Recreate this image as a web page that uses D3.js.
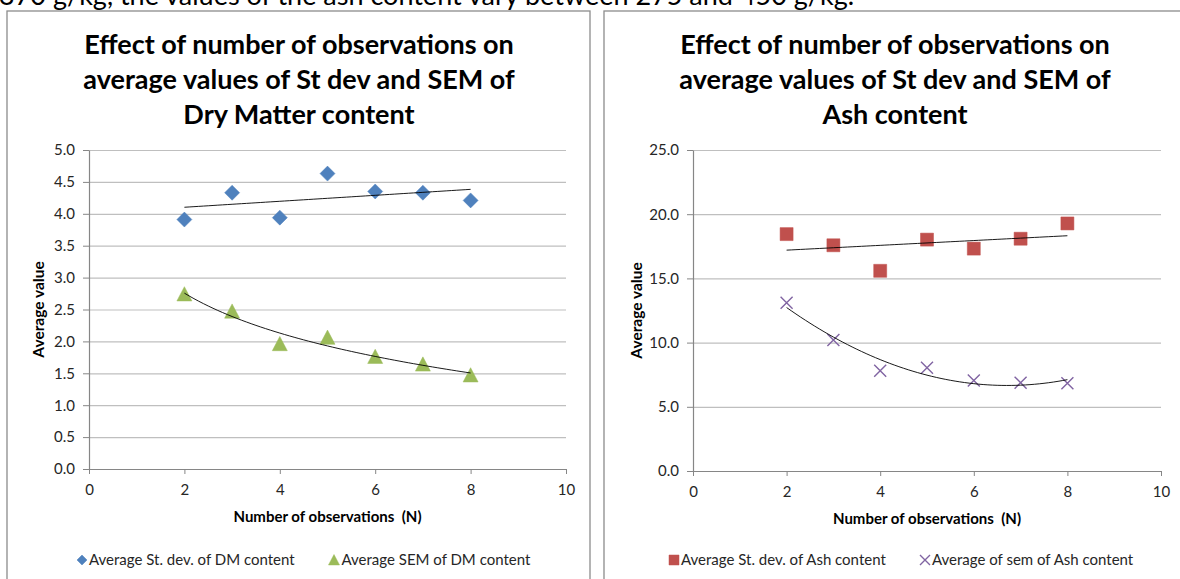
<!DOCTYPE html>
<html>
<head>
<meta charset="utf-8">
<script src="https://cdn.jsdelivr.net/npm/d3@7"></script>
<style>
  body { margin: 0; background: #fff; }
  svg { display: block; }
  text { font-family: Lato, "Open Sans", sans-serif; }
</style>
</head>
<body>
<svg id="charts"></svg>
<script>
// data
let nObs = [2, 3, 4, 5, 6, 7, 8];
let dmStDev = [3.91, 4.33, 3.94, 4.63, 4.35, 4.33, 4.21];
let dmSem = [2.74, 2.47, 1.96, 2.06, 1.76, 1.64, 1.47];
let ashStDev = [18.45, 17.58, 15.59, 18.02, 17.32, 18.09, 19.28];
let ashSem = [13.1, 10.2, 7.81, 8.04, 7.04, 6.88, 6.83];

// tick labels
let xTicks = [0, 2, 4, 6, 8, 10];
let dmTicks = [0, 0.5, 1, 1.5, 2, 2.5, 3, 3.5, 4, 4.5, 5];
let ashTicks = [0, 5, 10, 15, 20, 25];

let colors = {
  blue: '#4F81BD',
  green: '#9BBB59',
  red: '#C0504D',
  purple: '#8064A2',
  grid: '#BFBFBF',
  axis: '#868686',
  frame: '#8C8C8C'
};

let svg = d3.select('#charts')
  .attr('width', 1180)
  .attr('height', 579);

function translate(x, y) {
  return 'translate(' + x + ',' + y + ')';
}

// least squares fits used for the trend lines
function linearFit(xs, ys) {
  let mx = d3.mean(xs), my = d3.mean(ys);
  let sxy = d3.sum(xs, (x, i) => (x - mx) * (ys[i] - my));
  let sxx = d3.sum(xs, x => (x - mx) * (x - mx));
  let b = sxy / sxx;
  return x => my + b * (x - mx);
}

function logFit(xs, ys) {
  let f = linearFit(xs.map(Math.log), ys);
  return x => f(Math.log(x));
}

function polyFit2(xs, ys) {
  // normal equations for y = a + b x + c x^2
  let s = k => d3.sum(xs, x => Math.pow(x, k));
  let t = k => d3.sum(xs, (x, i) => Math.pow(x, k) * ys[i]);
  let m = [
    [s(0), s(1), s(2), t(0)],
    [s(1), s(2), s(3), t(1)],
    [s(2), s(3), s(4), t(2)]
  ];
  for (let i = 0; i < 3; i++) {
    for (let j = i + 1; j < 3; j++) {
      let r = m[j][i] / m[i][i];
      for (let k = i; k < 4; k++) m[j][k] -= r * m[i][k];
    }
  }
  let c = m[2][3] / m[2][2];
  let b = (m[1][3] - m[1][2] * c) / m[1][1];
  let a = (m[0][3] - m[0][1] * b - m[0][2] * c) / m[0][0];
  return x => a + b * x + c * x * x;
}

// marker shapes
function markerPath(type, r) {
  switch (type) {
    case 'diamond':
      return 'M0,' + (-r) + 'L' + r + ',0L0,' + r + 'L' + (-r) + ',0Z';
    case 'triangle':
      return 'M0,' + (-r) + 'L' + r + ',' + r * 0.9 + 'L' + (-r) + ',' + r * 0.9 + 'Z';
    case 'square':
      return 'M' + (-r) + ',' + (-r) + 'h' + 2 * r + 'v' + 2 * r + 'h' + (-2 * r) + 'Z';
    case 'cross':
      return 'M' + (-r) + ',' + (-r) + 'L' + r + ',' + r + 'M' + r + ',' + (-r) + 'L' + (-r) + ',' + r;
  }
}

function drawMarkers(g, type, color, r, points) {
  g.selectAll(null)
    .data(points)
    .enter().append('path')
    .attr('transform', d => translate(d[0], d[1]))
    .attr('d', markerPath(type, r))
    .attr('fill', type == 'cross' ? 'none' : color)
    .attr('stroke', color)
    .attr('stroke-width', type == 'cross' ? 1.4 : 0.5);
}

function drawChart(cfg) {
  let root = svg.append('g');

  // outer frame
  root.append('rect')
    .attr('x', cfg.frame[0])
    .attr('y', cfg.frame[1])
    .attr('width', cfg.frame[2])
    .attr('height', cfg.frame[3])
    .attr('fill', '#fff')
    .attr('stroke', colors.frame)
    .attr('stroke-width', 1.3);

  // title
  let title = root.append('text')
    .attr('text-anchor', 'middle')
    .attr('font-weight', 'bold')
    .attr('font-size', 27)
    .attr('fill', '#000');
  cfg.title.forEach((line, i) => {
    title.append('tspan')
      .attr('x', cfg.titleX)
      .attr('y', 54 + i * 35)
      .text(line);
  });

  let x = d3.scaleLinear().domain([0, 10]).range([cfg.x0, cfg.x1]);
  let y = d3.scaleLinear().domain(d3.extent(cfg.yTicks)).range([cfg.y0, cfg.y1]);

  // gridlines
  let grid = d3.axisLeft(y)
    .tickValues(cfg.yTicks.slice(1))
    .tickFormat('')
    .tickSize(-(cfg.x1 - cfg.x0));
  root.append('g')
    .attr('transform', translate(cfg.x0, 0))
    .call(grid)
    .call(g => g.select('.domain').remove())
    .call(g => g.selectAll('line').attr('stroke', colors.grid).attr('stroke-width', 1.2));

  // axes
  let yAxis = d3.axisLeft(y)
    .tickValues(cfg.yTicks)
    .tickFormat(d3.format('.1f'))
    .tickSize(6)
    .tickSizeOuter(0)
    .tickPadding(8);
  root.append('g')
    .attr('transform', translate(cfg.x0, 0))
    .call(yAxis)
    .call(g => g.select('.domain').attr('stroke', colors.axis).attr('stroke-width', 1.2))
    .call(g => g.selectAll('line').attr('stroke', colors.axis))
    .call(g => g.selectAll('text').attr('font-size', 15).attr('fill', '#262626')
      .attr('font-family', 'Lato, sans-serif'));

  let xAxis = d3.axisBottom(x)
    .tickValues(xTicks)
    .tickFormat(d3.format('d'))
    .tickSize(5)
    .tickSizeOuter(0)
    .tickPadding(10);
  root.append('g')
    .attr('transform', translate(0, cfg.y0))
    .call(xAxis)
    .call(g => g.select('.domain').attr('stroke', colors.axis).attr('stroke-width', 1.2))
    .call(g => g.selectAll('line').attr('stroke', colors.axis))
    .call(g => g.selectAll('text').attr('font-size', 15).attr('fill', '#262626')
      .attr('font-family', 'Lato, sans-serif'));

  // axis titles
  root.append('text')
    .attr('transform', translate(cfg.x0 - cfg.yTitleGap, (cfg.y0 + cfg.y1) / 2) + ' rotate(-90)')
    .attr('text-anchor', 'middle')
    .attr('font-weight', 'bold')
    .attr('font-size', 15.5)
    .text('Average value');

  root.append('text')
    .attr('x', (cfg.x0 + cfg.x1) / 2)
    .attr('y', cfg.y0 + 53)
    .attr('text-anchor', 'middle')
    .attr('font-weight', 'bold')
    .attr('font-size', 15)
    .attr('xml:space', 'preserve')
    .text('Number of observations  (N)');

  // series and trend lines
  let trendX = d3.range(0, 61).map(i => 2 + i * 0.1);
  let line = d3.line().x(d => x(d[0])).y(d => y(d[1]));
  let plot = root.append('g');

  cfg.series.forEach(s => {
    let points = nObs.map((n, i) => [x(n), y(s.values[i])]);
    drawMarkers(plot, s.marker, s.color, s.r, points);
  });
  cfg.series.forEach(s => {
    let fit = s.fit(nObs, s.values);
    plot.append('path')
      .datum(trendX.map(t => [t, fit(t)]))
      .attr('d', line)
      .attr('fill', 'none')
      .attr('stroke', '#000')
      .attr('stroke-width', 0.9);
  });

  // legend
  let legend = root.append('g');
  cfg.series.forEach(s => {
    drawMarkers(legend, s.marker, s.color, s.legendR, [[s.legendX, 560]]);
    legend.append('text')
      .attr('x', s.legendX + s.legendR + 2)
      .attr('y', 565)
      .attr('font-size', 15)
      .attr('fill', '#262626')
      .text(s.name);
  });
}

// text of the document above the charts, cut off by the window
svg.append('text')
  .attr('x', -1)
  .attr('y', 4.5)
  .attr('font-family', '"DejaVu Sans", sans-serif')
  .attr('font-size', 27)
  .attr('fill', '#000')
  .text('370 g/kg, the values of the ash content vary between 275 and 450 g/kg.');

drawChart({
  frame: [7, 11, 583, 600],
  title: ['Effect of number of observations on', 'average values of St dev and SEM of', 'Dry Matter content'],
  titleX: 299,
  x0: 89, x1: 566, y0: 469, y1: 150,
  yTitleGap: 45,
  yTicks: dmTicks,
  series: [
    { name: 'Average St. dev. of DM content', values: dmStDev, marker: 'diamond', color: colors.blue,
      r: 7.5, legendR: 5, legendX: 82, fit: linearFit },
    { name: 'Average SEM of DM content', values: dmSem, marker: 'triangle', color: colors.green,
      r: 7.5, legendR: 5.5, legendX: 334, fit: logFit }
  ]
});

drawChart({
  frame: [604, 11, 600, 600],
  title: ['Effect of number of observations on', 'average values of St dev and SEM of', 'Ash content'],
  titleX: 895,
  x0: 693, x1: 1161, y0: 471, y1: 150,
  yTitleGap: 51,
  yTicks: ashTicks,
  series: [
    { name: 'Average St. dev. of Ash content', values: ashStDev, marker: 'square', color: colors.red,
      r: 6.5, legendR: 5, legendX: 674, fit: linearFit },
    { name: 'Average of sem of Ash content', values: ashSem, marker: 'cross', color: colors.purple,
      r: 6, legendR: 5, legendX: 925, fit: polyFit2 }
  ]
});
</script>
</body>
</html>
